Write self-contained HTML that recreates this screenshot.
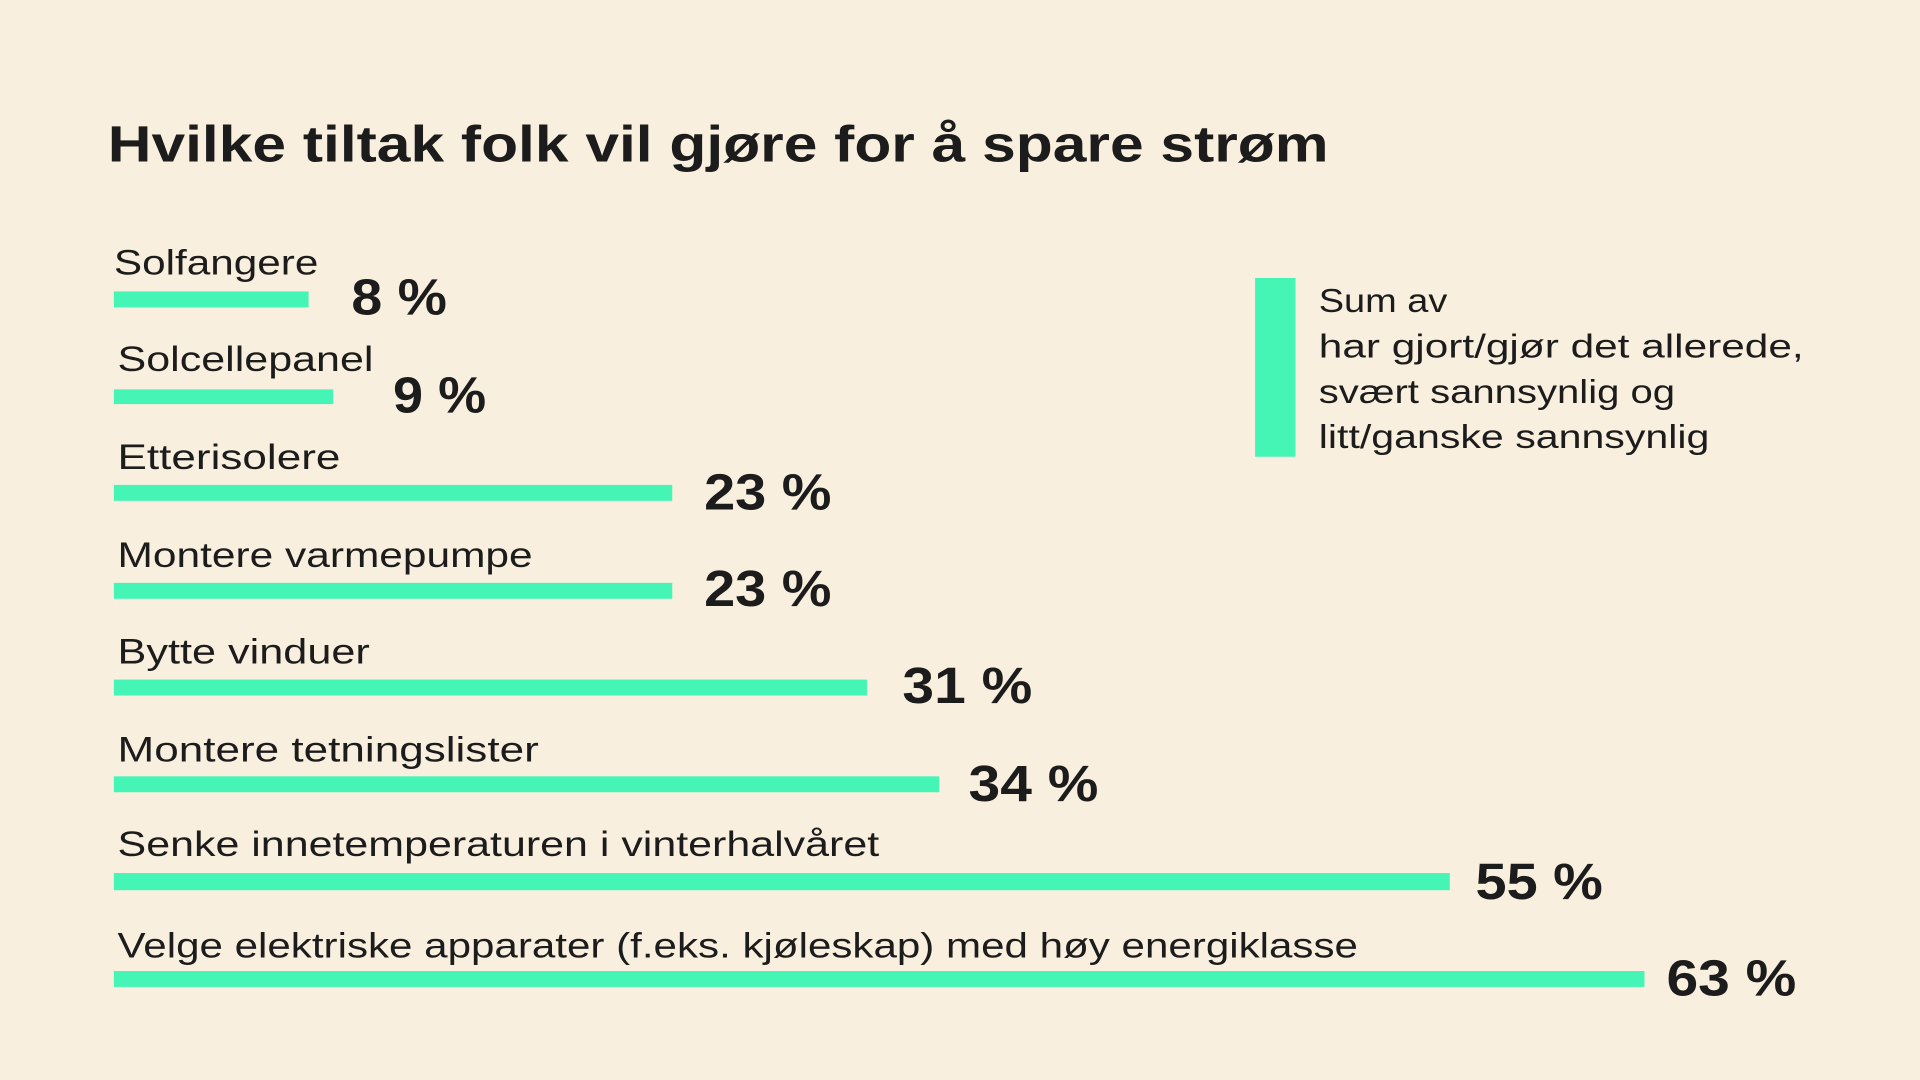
<!DOCTYPE html>
<html><head><meta charset="utf-8"><style>
html,body{margin:0;padding:0;background:#f8efde;}
svg{display:block}
text{font-family:"Liberation Sans",sans-serif;fill:#1c1c1c}
.l{font-size:29px}
.v{font-size:42px;font-weight:bold}
.g{font-size:27px}
</style></head><body>
<svg width="1920" height="1080" viewBox="0 0 1568 882" preserveAspectRatio="none">
<rect width="1568" height="882" fill="#f8efde"/>
<text x="88" y="132" style="font-size:42px;font-weight:bold" textLength="997" lengthAdjust="spacingAndGlyphs">Hvilke tiltak folk vil gjøre for å spare strøm</text>
<g fill="#45f5b5">
<rect x="93" y="238" width="159" height="13"/>
<rect x="93" y="318" width="179" height="12"/>
<rect x="93" y="396" width="456" height="13"/>
<rect x="93" y="476" width="456" height="13"/>
<rect x="93" y="555" width="615" height="13"/>
<rect x="93" y="634" width="674" height="13"/>
<rect x="93" y="713" width="1091" height="14"/>
<rect x="93" y="793" width="1250" height="13"/>
<rect x="1025" y="227" width="33" height="146"/>
</g>
<g lengthAdjust="spacingAndGlyphs">
<text class="l" x="93" y="224" textLength="167" lengthAdjust="spacingAndGlyphs">Solfangere</text>
<text class="l" x="96" y="303" textLength="209" lengthAdjust="spacingAndGlyphs">Solcellepanel</text>
<text class="l" x="96" y="383" textLength="182" lengthAdjust="spacingAndGlyphs">Etterisolere</text>
<text class="l" x="96" y="463" textLength="339" lengthAdjust="spacingAndGlyphs">Montere varmepumpe</text>
<text class="l" x="96" y="542" textLength="206" lengthAdjust="spacingAndGlyphs">Bytte vinduer</text>
<text class="l" x="96" y="622" textLength="344" lengthAdjust="spacingAndGlyphs">Montere tetningslister</text>
<text class="l" x="96" y="699" textLength="622" lengthAdjust="spacingAndGlyphs">Senke innetemperaturen i vinterhalvåret</text>
<text class="l" x="96" y="782" textLength="1013" lengthAdjust="spacingAndGlyphs">Velge elektriske apparater (f.eks. kjøleskap) med høy energiklasse</text>
<text class="v" x="287" y="257" textLength="78" lengthAdjust="spacingAndGlyphs">8 %</text>
<text class="v" x="321" y="337" textLength="76" lengthAdjust="spacingAndGlyphs">9 %</text>
<text class="v" x="575" y="416" textLength="104" lengthAdjust="spacingAndGlyphs">23 %</text>
<text class="v" x="575" y="495" textLength="104" lengthAdjust="spacingAndGlyphs">23 %</text>
<text class="v" x="737" y="574" textLength="106" lengthAdjust="spacingAndGlyphs">31 %</text>
<text class="v" x="791" y="654" textLength="106" lengthAdjust="spacingAndGlyphs">34 %</text>
<text class="v" x="1205" y="734" textLength="104" lengthAdjust="spacingAndGlyphs">55 %</text>
<text class="v" x="1361" y="813" textLength="106" lengthAdjust="spacingAndGlyphs">63 %</text>
<text class="g" x="1077" y="255" textLength="105" lengthAdjust="spacingAndGlyphs">Sum av</text>
<text class="g" x="1077" y="292" textLength="396" lengthAdjust="spacingAndGlyphs">har gjort/gjør det allerede,</text>
<text class="g" x="1077" y="329" textLength="291" lengthAdjust="spacingAndGlyphs">svært sannsynlig og</text>
<text class="g" x="1077" y="366" textLength="319" lengthAdjust="spacingAndGlyphs">litt/ganske sannsynlig</text>
</g>
</svg>
</body></html>
